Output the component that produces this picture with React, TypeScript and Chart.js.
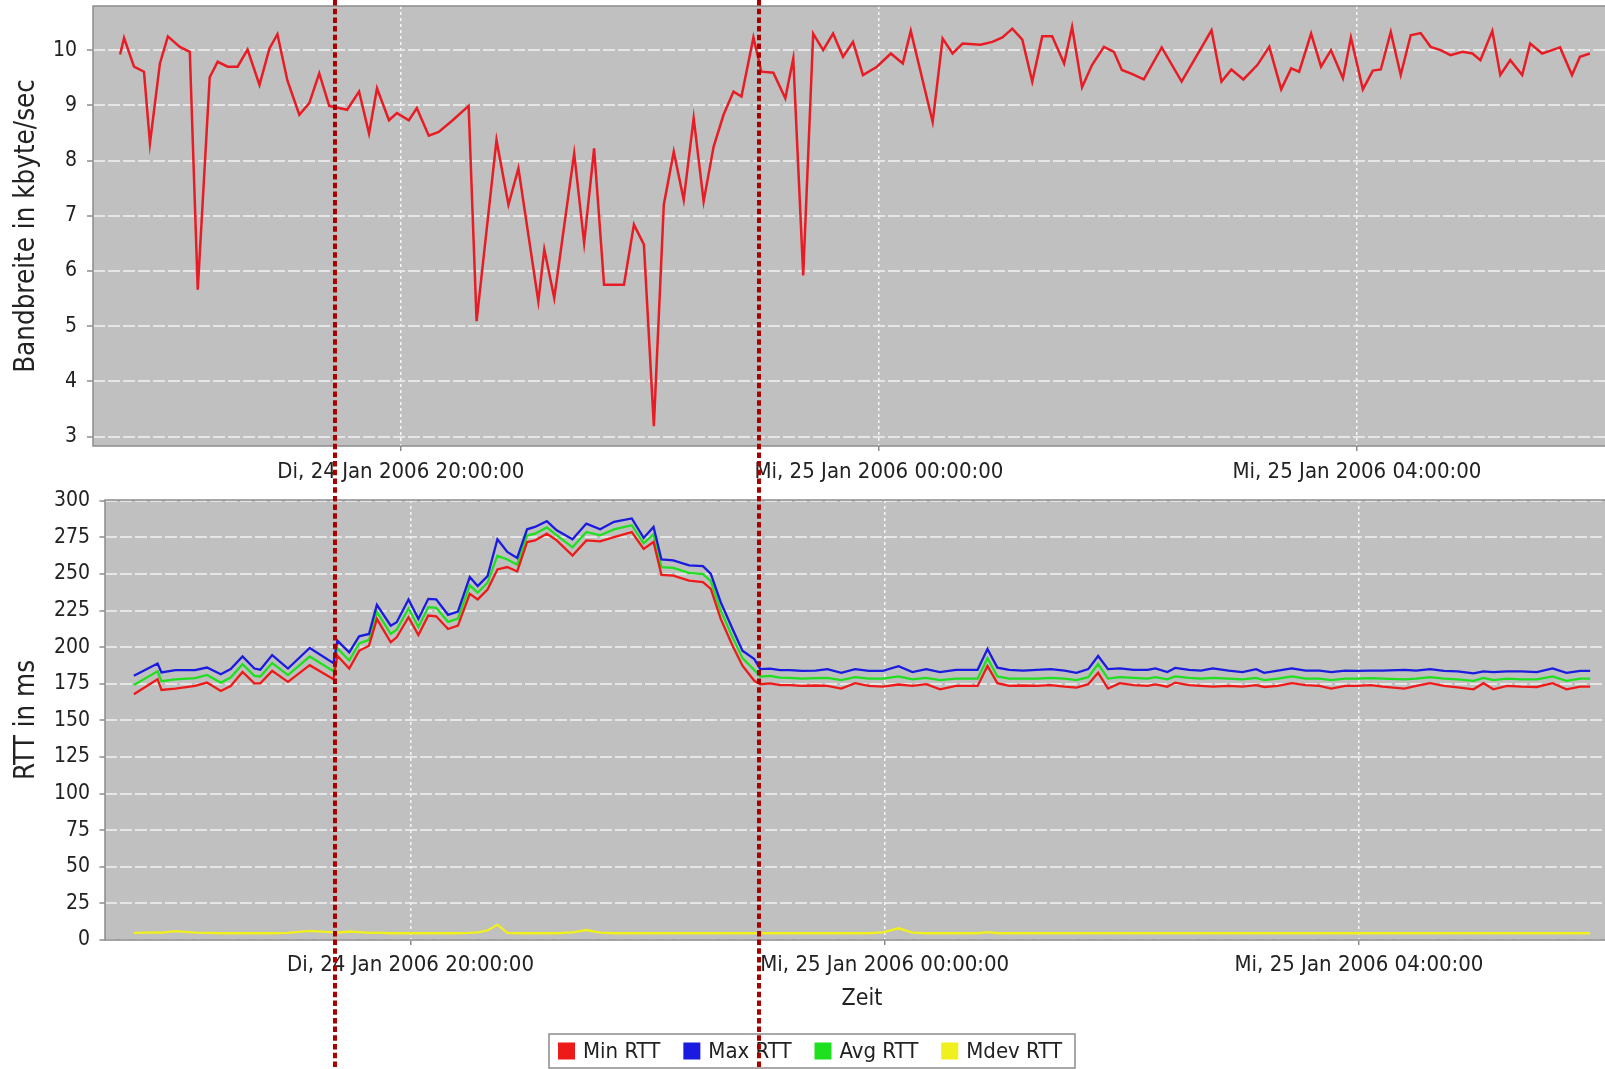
import React, { useEffect, useRef } from 'react';
import { Chart, registerables } from 'chart.js';

Chart.register(...registerables);

const FONT_FAMILY = '"DejaVu Sans Condensed", "DejaVu Sans", sans-serif';
const TEXT_COLOR = '#222222';

// time axis (minutes since 24 Jan 2006 00:00)
const X_MIN = 1045.4;
const X_MAX = 1811.6;
const timeTicks = [1200, 1440, 1680];
const timeTickLabels = ['Di, 24 Jan 2006 20:00:00', 'Mi, 25 Jan 2006 00:00:00', 'Mi, 25 Jan 2006 04:00:00'];
const markerTimes = [1161.7, 1376.3];

// top: bandwidth
const bwTicks = [3, 4, 5, 6, 7, 8, 9, 10];
const bwTime = [
  1059, 1061, 1066, 1071, 1074, 1079, 1083, 1089, 1094, 1098,
  1104, 1108, 1113, 1118, 1123, 1129, 1134, 1138, 1143, 1149,
  1154, 1159, 1164, 1173, 1179, 1184, 1188, 1194, 1198, 1204,
  1208, 1214, 1219, 1226, 1234, 1238, 1248, 1254, 1259, 1269,
  1272, 1277, 1287, 1292, 1297, 1302, 1307, 1312, 1317, 1322,
  1327, 1332, 1337, 1342, 1347, 1352, 1357, 1362, 1367, 1371,
  1377, 1381, 1387, 1393, 1397, 1402, 1407, 1412, 1417, 1422,
  1427, 1432, 1439, 1446, 1452, 1456, 1467, 1472, 1477, 1482,
  1491, 1497, 1502, 1507, 1512, 1517, 1522, 1527, 1533, 1537,
  1542, 1547, 1553, 1558, 1562, 1567, 1573, 1582, 1592, 1607,
  1612, 1617, 1623, 1630, 1636, 1642, 1647, 1651, 1657, 1662,
  1667, 1673, 1677, 1683, 1688, 1692, 1697, 1702, 1707, 1712,
  1717, 1722, 1727, 1733, 1738, 1742, 1748, 1752, 1757, 1763,
  1767, 1773, 1778, 1782, 1788, 1792, 1797,
];
const bwValue = [
  9.92, 10.22, 9.70, 9.61, 8.31, 9.76, 10.25, 10.06, 9.97, 5.66,
  9.51, 9.79, 9.70, 9.70, 10.01, 9.37, 10.03, 10.29, 9.45, 8.83,
  9.04, 9.58, 8.99, 8.92, 9.25, 8.49, 9.31, 8.73, 8.86, 8.73,
  8.95, 8.45, 8.52, 8.73, 8.99, 5.09, 8.37, 7.20, 7.86, 5.45,
  6.39, 5.51, 8.13, 6.51, 8.22, 5.75, 5.75, 5.75, 6.84, 6.48,
  3.19, 7.20, 8.16, 7.29, 8.77, 7.26, 8.25, 8.83, 9.25, 9.16,
  10.23, 9.61, 9.59, 9.13, 9.85, 5.92, 10.30, 10.00, 10.30, 9.88,
  10.15, 9.55, 9.70, 9.94, 9.76, 10.35, 8.70, 10.21, 9.94, 10.12,
  10.10, 10.15, 10.23, 10.39, 10.19, 9.43, 10.25, 10.25, 9.76, 10.42,
  9.33, 9.73, 10.06, 9.97, 9.64, 9.57, 9.47, 10.05, 9.43, 10.36,
  9.43, 9.65, 9.47, 9.73, 10.06, 9.29, 9.67, 9.61, 10.30, 9.70,
  10.00, 9.49, 10.23, 9.29, 9.63, 9.65, 10.33, 9.55, 10.27, 10.31,
  10.06, 10.00, 9.91, 9.97, 9.94, 9.82, 10.35, 9.55, 9.82, 9.55,
  10.12, 9.94, 10.00, 10.05, 9.55, 9.88, 9.94,
];

// bottom: RTT
const rttTicks = [0, 25, 50, 75, 100, 125, 150, 175, 200, 225, 250, 275, 300];
const seriesLabels = ['Min RTT', 'Max RTT', 'Avg RTT', 'Mdev RTT'];
const seriesColors = ['#ee1a1a', '#1a1ae0', '#1ee01e', '#f0f01e'];
const rttTime = [
  1060, 1072, 1074, 1081, 1091, 1097, 1104, 1109, 1115, 1121,
  1124, 1130, 1138, 1149, 1161, 1163, 1169, 1174, 1179, 1183,
  1190, 1193, 1199, 1204, 1209, 1213, 1219, 1224, 1230, 1234,
  1239, 1244, 1249, 1254, 1259, 1263, 1269, 1274, 1282, 1289,
  1296, 1303, 1312, 1318, 1323, 1327, 1333, 1341, 1348, 1352,
  1357, 1363, 1368, 1374, 1377, 1382, 1387,
  1392, 1398, 1405, 1411, 1418, 1425, 1432, 1439, 1447, 1454,
  1461, 1468, 1476, 1487, 1492, 1497, 1503, 1510, 1517, 1524,
  1531, 1537, 1543, 1548, 1553, 1559, 1566, 1573, 1577, 1583,
  1587, 1594, 1600, 1606, 1614, 1621, 1628, 1632, 1639, 1646,
  1653, 1660, 1666, 1673, 1679, 1686, 1692, 1703, 1709, 1716,
  1723, 1730, 1738, 1743, 1748, 1755, 1762, 1770, 1778, 1785,
  1792, 1797,
];
const rttMax = [
  180.4, 188.8, 182.7, 184.3, 184.3, 186.1, 181.5, 185.0, 193.6, 185.4,
  184.6, 194.6, 185.4, 199.4, 189.1, 204.4, 196.4, 207.4, 209.0, 228.9,
  214.7, 217.0, 232.6, 219.3, 233.0, 232.6, 222.1, 224.3, 247.9, 241.7,
  248.5, 273.7, 265.0, 260.9, 280.5, 282.1, 286.0, 279.8, 273.7, 284.4,
  280.5, 285.6, 287.9, 274.6, 282.1, 259.9, 259.2, 255.8, 255.3, 250.1,
  230.7, 212.4, 197.6, 191.8, 185.0, 185.4, 184.3,
  184.3, 183.8, 184.0, 185.0, 182.5, 185.0, 183.8, 183.8, 187.0, 183.0,
  185.0, 183.0, 184.5, 184.5, 198.7, 186.0, 184.5, 184.0, 184.5, 185.0,
  184.0, 182.5, 185.0, 194.0, 185.0, 185.5, 184.5, 184.5, 185.5, 183.0,
  185.8, 184.5, 184.0, 185.5, 184.0, 183.0, 185.0, 182.5, 184.0, 185.5,
  184.0, 184.0, 183.0, 184.0, 183.8, 184.0, 184.0, 184.5, 184.0, 185.0,
  183.8, 183.5, 182.1, 183.5, 183.0, 183.5, 183.5, 183.0, 185.5, 182.5,
  183.8, 183.8,
];
const rttMin = [
  167.8, 178.1, 170.8, 171.7, 173.5, 175.8, 170.1, 173.5, 183.1, 175.3,
  175.3, 183.8, 176.3, 187.7, 178.1, 194.1, 185.4, 197.5, 201.0, 219.3,
  203.3, 206.7, 220.4, 208.3, 221.6, 221.1, 212.4, 214.7, 236.4, 232.6,
  239.4, 253.1, 254.7, 251.7, 271.8, 272.9, 277.5, 272.9, 262.6, 272.9,
  272.2, 275.2, 278.6, 267.1, 271.8, 249.4, 248.9, 245.5, 244.4, 239.8,
  219.3, 201.0, 187.3, 177.0, 174.7, 175.3, 174.0,
  174.0, 173.5, 173.8, 173.5, 171.7, 175.4, 173.5, 173.0, 174.5, 173.5,
  174.7, 171.2, 173.5, 173.5, 187.2, 175.4, 173.5, 173.8, 173.5, 174.0,
  173.0, 172.4, 174.7, 182.5, 171.7, 175.4, 174.0, 173.5, 174.5, 173.0,
  175.8, 174.0, 173.5, 173.1, 173.5, 173.0, 174.0, 172.8, 173.5, 175.4,
  174.0, 173.5, 171.7, 173.5, 173.5, 174.0, 173.0, 171.7, 173.5, 175.4,
  173.5, 172.5, 171.2, 175.4, 171.2, 173.5, 173.0, 172.8, 175.4, 171.2,
  173.1, 173.1,
];
const rttAvg = [
  174.1, 183.5, 176.8, 178.0, 178.9, 181.0, 175.8, 179.3, 188.4, 180.4,
  180.0, 189.2, 180.9, 193.6, 183.6, 199.3, 190.9, 202.5, 205.0, 224.1,
  209.0, 211.9, 226.5, 213.8, 227.3, 226.9, 217.3, 219.5, 242.2, 237.2,
  244.0, 262.5, 259.9, 256.3, 276.2, 277.5, 281.8, 276.4, 268.2, 278.7,
  276.4, 280.4, 283.3, 270.9, 277.0, 254.7, 254.1, 250.7, 249.9, 245.0,
  225.0, 206.7, 192.5, 184.4, 179.9, 180.4, 179.2,
  179.0, 178.5, 178.8, 179.0, 177.5, 179.5, 178.5, 178.5, 180.0, 178.0,
  179.0, 177.5, 178.5, 178.5, 192.5, 180.0, 178.5, 178.5, 178.5, 179.0,
  178.5, 177.5, 179.5, 188.5, 178.5, 179.5, 179.0, 178.5, 179.5, 178.0,
  180.0, 179.0, 178.5, 179.0, 178.5, 178.0, 179.0, 177.5, 178.5, 180.0,
  178.5, 178.5, 177.5, 178.5, 178.5, 178.8, 178.5, 178.0, 178.5, 179.5,
  178.5, 178.0, 177.0, 179.0, 177.5, 178.5, 178.0, 178.0, 180.0, 177.0,
  178.5, 178.5,
];
const rttMdev = [
  4.8, 5.2, 5.0, 6.0, 5.0, 4.8, 4.6, 4.6, 4.6, 4.6,
  4.6, 4.6, 4.8, 6.2, 5.2, 5.0, 5.8, 5.4, 4.8, 5.0,
  4.6, 4.6, 4.6, 4.6, 4.6, 4.6, 4.6, 4.6, 4.8, 5.2,
  6.5, 10.5, 4.8, 4.6, 4.6, 4.6, 4.6, 4.6, 5.2, 6.8,
  5.0, 4.6, 4.6, 4.6, 4.6, 4.6, 4.6, 4.6, 4.6, 4.6,
  4.6, 4.6, 4.6, 4.6, 4.6, 4.6, 4.6,
  4.6, 4.6, 4.6, 4.6, 4.6, 4.6, 4.6, 5.2, 8.0, 5.0,
  4.6, 4.6, 4.6, 4.6, 5.4, 4.6, 4.6, 4.6, 4.6, 4.6,
  4.6, 4.6, 4.6, 4.6, 4.6, 4.6, 4.6, 4.6, 4.6, 4.6,
  4.6, 4.6, 4.6, 4.6, 4.6, 4.6, 4.6, 4.6, 4.6, 4.6,
  4.6, 4.6, 4.6, 4.6, 4.6, 4.6, 4.6, 4.6, 4.6, 4.6,
  4.6, 4.6, 4.6, 4.6, 4.6, 4.6, 4.6, 4.6, 4.6, 4.6,
  4.6, 4.6,
];

const font = (size: number) => ({ family: FONT_FAMILY, size });

const plotFrame = {
  id: 'plotFrame',
  beforeDraw(chart: any) {
    const { ctx, chartArea: a } = chart;
    ctx.save();
    ctx.fillStyle = '#c0c0c0';
    ctx.fillRect(a.left, a.top, a.right - a.left, a.bottom - a.top);
    ctx.restore();
  },
  afterDatasetsDraw(chart: any) {
    const { ctx, chartArea: a } = chart;
    ctx.save();
    ctx.strokeStyle = '#8c8c8c';
    ctx.lineWidth = 1.5;
    ctx.strokeRect(a.left, a.top, a.right - a.left, a.bottom - a.top);
    ctx.restore();
  },
};

const boxLegend = {
  id: 'boxLegend',
  afterDraw(chart: any) {
    const { ctx } = chart;
    const box = 17;
    const gap = 8;
    const between = 23;
    const padL = 9;
    const padR = 13;
    const top = 1034;
    const h = 34;
    const cy = top + h / 2;
    ctx.save();
    ctx.font = `22px ${FONT_FAMILY}`;
    const items = chart.data.datasets.map((ds: any) => ({
      label: ds.label,
      color: ds.borderColor,
      w: ctx.measureText(ds.label).width,
    }));
    const total = items.reduce((s: number, it: any) => s + box + gap + it.w, 0) + between * (items.length - 1);
    let x = chart.width / 2 - total / 2;
    ctx.fillStyle = '#ffffff';
    ctx.fillRect(x - padL, top, total + padL + padR, h);
    ctx.strokeStyle = '#8c8c8c';
    ctx.lineWidth = 1.5;
    ctx.strokeRect(x - padL, top, total + padL + padR, h);
    ctx.textBaseline = 'middle';
    ctx.textAlign = 'left';
    items.forEach((it: any) => {
      ctx.fillStyle = it.color;
      ctx.fillRect(x, cy - box / 2, box, box);
      ctx.fillStyle = TEXT_COLOR;
      ctx.fillText(it.label, x + box + gap, cy + 1);
      x += box + gap + it.w + between;
    });
    ctx.restore();
  },
};

const markerLines = {
  id: 'markerLines',
  afterDraw(chart: any) {
    const { ctx } = chart;
    const xs = chart.scales.x;
    ctx.save();
    ctx.strokeStyle = '#a80000';
    ctx.lineWidth = 4;
    ctx.setLineDash([5.5, 3.2]);
    markerTimes.forEach((t) => {
      const x = Math.round(xs.getPixelForValue(t));
      ctx.beginPath();
      ctx.moveTo(x, 0);
      ctx.lineTo(x, chart.height);
      ctx.stroke();
    });
    ctx.restore();
  },
};

function xScale(axisHeight: number, withTitle: boolean, labelPad: number) {
  return {
    type: 'linear' as const,
    min: X_MIN,
    max: X_MAX,
    afterBuildTicks: (s: any) => {
      s.ticks = timeTicks.map((v) => ({ value: v }));
    },
    afterFit: (s: any) => {
      s.height = axisHeight;
      s.paddingLeft = 0;
      s.paddingRight = 0;
    },
    ticks: {
      callback: (_v: any, i: number) => timeTickLabels[i],
      font: font(22),
      color: TEXT_COLOR,
      padding: labelPad,
      maxRotation: 0,
      autoSkip: false,
    },
    grid: {
      color: 'rgba(255,255,255,0.85)',
      lineWidth: 1.5,
      tickLength: 5,
      tickColor: '#8c8c8c',
      tickWidth: 1.5,
      tickBorderDash: [],
    },
    border: { display: false, dash: [3, 3] },
    title: withTitle
      ? { display: true, text: 'Zeit', font: font(23), color: TEXT_COLOR, padding: { top: 0, bottom: 56 } }
      : { display: false },
  };
}

function yScale(min: number, max: number, ticks: number[], width: number, title: string, tickLen: number, pad: number) {
  return {
    type: 'linear' as const,
    min,
    max,
    afterBuildTicks: (s: any) => {
      s.ticks = ticks.map((v) => ({ value: v }));
    },
    afterFit: (s: any) => {
      s.width = width;
      s.paddingTop = 0;
      s.paddingBottom = 0;
    },
    ticks: {
      callback: (v: any) => String(v),
      font: font(21),
      color: TEXT_COLOR,
      padding: pad,
    },
    grid: {
      color: 'rgba(236,236,236,0.85)',
      lineWidth: 2,
      tickLength: tickLen,
      tickColor: '#8c8c8c',
      tickWidth: 1.5,
      tickBorderDash: [],
    },
    border: { display: false, dash: [12, 3] },
    title: { display: true, text: title, font: font(27.5), color: TEXT_COLOR, padding: { top: 10, bottom: 0 } },
  };
}

export default function App() {
  const topRef = useRef<HTMLCanvasElement | null>(null);
  const botRef = useRef<HTMLCanvasElement | null>(null);

  useEffect(() => {
    const top = new Chart(topRef.current as HTMLCanvasElement, {
      type: 'line',
      data: {
        datasets: [
          {
            label: 'Bandbreite',
            data: bwTime.map((t, i) => ({ x: t, y: bwValue[i] })),
            borderColor: '#e81c24',
            borderWidth: 2.5,
            pointRadius: 0,
            tension: 0,
          },
        ],
      },
      options: {
        animation: false,
        responsive: false,
        devicePixelRatio: 1,
        events: [],
        layout: { padding: { top: 6, right: 1, left: 0, bottom: 0 } },
        plugins: { legend: { display: false }, tooltip: { enabled: false } },
        scales: {
          x: xScale(44, false, 8.5),
          y: yScale(2.83, 10.8, bwTicks, 93, 'Bandbreite in kbyte/sec', 6, 10),
        },
      } as any,
      plugins: [plotFrame],
    });

    const rttSeries = [rttMin, rttMax, rttAvg, rttMdev];
    const bottom = new Chart(botRef.current as HTMLCanvasElement, {
      type: 'line',
      data: {
        datasets: rttSeries.map((vals, k) => ({
          label: seriesLabels[k],
          data: rttTime.map((t, i) => ({ x: t, y: vals[i] })),
          borderColor: seriesColors[k],
          backgroundColor: seriesColors[k],
          borderWidth: 2.3,
          pointRadius: 0,
          tension: 0,
        })),
      },
      options: {
        animation: false,
        responsive: false,
        devicePixelRatio: 1,
        events: [],
        layout: { padding: { top: 500, right: 1, left: 0, bottom: 0 } },
        plugins: { legend: { display: false }, tooltip: { enabled: false } },
        scales: {
          x: xScale(129, true, 7.5),
          y: yScale(0, 300.5, rttTicks, 105, 'RTT in ms', 5.5, 9.5),
        },
      } as any,
      plugins: [plotFrame, boxLegend, markerLines],
    });

    return () => {
      top.destroy();
      bottom.destroy();
    };
  }, []);

  return (
    <div
      style={{
        position: 'fixed',
        left: 0,
        top: 0,
        width: 1605,
        height: 1069,
        overflow: 'hidden',
        background: '#ffffff',
      }}
    >
      <canvas ref={topRef} width={1620} height={490} style={{ position: 'absolute', left: 0, top: 0 }} />
      <canvas ref={botRef} width={1620} height={1069} style={{ position: 'absolute', left: 0, top: 0 }} />
    </div>
  );
}
